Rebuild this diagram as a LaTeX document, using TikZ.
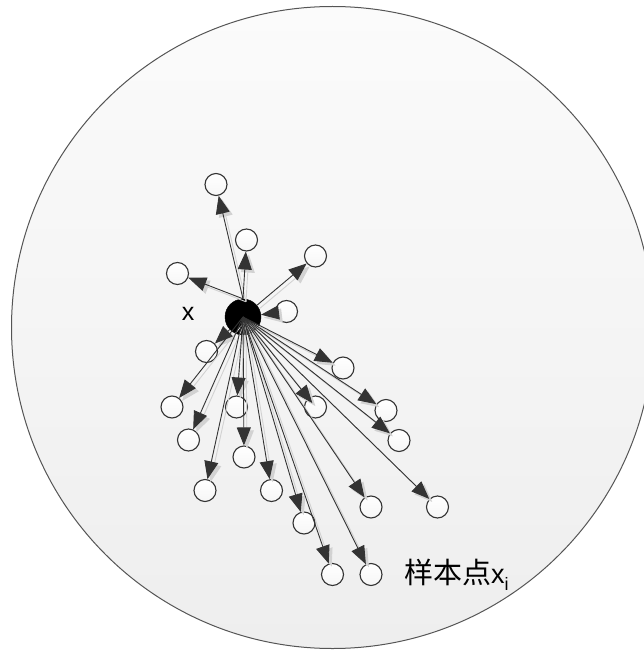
\documentclass[tikz,border=0pt]{standalone}
\usepackage{fontspec}
\setmainfont{Liberation Sans}
\newfontfamily\cjk{Noto Sans CJK SC}
\usetikzlibrary{arrows.meta}
\definecolor{linec}{HTML}{333333}
\definecolor{rim}{HTML}{555555}
\definecolor{shad}{HTML}{D2D2D2}
\definecolor{bgtop}{HTML}{FBFBFB}
\definecolor{bgbot}{HTML}{EEEEEE}
\begin{document}
\begin{tikzpicture}[x=1pt,y=-1pt,
  smpt/.style={circle,draw=linec,line width=1.1pt,minimum size=22pt,inner sep=0pt,top color=white,bottom color=gray!7},
  arr/.style={draw=linec,line width=0.9pt,-{Triangle[length=18pt,width=14pt]}},
  shd/.style={draw=shad,line width=0.9pt,-{Triangle[length=18pt,width=14pt]},transform canvas={shift={(3,3)}}}]
\useasboundingbox (0,0) rectangle (644,650);
\begin{scope}
\clip (0,0) rectangle (644,650);
\draw[rim,line width=1pt,top color=bgtop,bottom color=bgbot] (332.5,327.5) circle[radius=321];
\end{scope}
% sample points
\node[smpt] (c1) at (216,184.5) {};
\node[smpt] (c2) at (246.5,240) {};
\node[smpt] (c3) at (177.5,273.5) {};
\node[smpt] (c4) at (315.5,256) {};
\node[smpt] (c5) at (286.5,311.5) {};
\node[smpt] (c6) at (206.5,351.5) {};
\node[smpt] (c7) at (343,368) {};
\node[smpt] (c8) at (172,407) {};
\node[smpt] (c9) at (236.5,407) {};
\node[smpt] (c10) at (315.5,407) {};
\node[smpt] (c11) at (386,410.5) {};
\node[smpt] (c12) at (188.5,440) {};
\node[smpt] (c13) at (399,440.5) {};
\node[smpt] (c14) at (244,457) {};
\node[smpt] (c15) at (205,490.5) {};
\node[smpt] (c16) at (271.5,490.5) {};
\node[smpt] (c17) at (371,507) {};
\node[smpt] (c18) at (437.5,507) {};
\node[smpt] (c19) at (304,523) {};
\node[smpt] (c20) at (332.5,574.5) {};
\node[smpt] (c21) at (371,574.5) {};
% centre point
\node[circle,fill=black,draw=black,minimum size=36pt,inner sep=0pt] (b) at (243,317) {};
% shadows
\foreach \t in {c1,c2,c3}{\draw[shd] (b.north) -- (\t);}
\foreach \t in {c4,c6}{\draw[shd] (b) -- (\t);}
\draw[shd] (c5) -- (b);
\foreach \t in {c7,c8,c9,c11,c12,c13,c14,c15,c16,c17,c18,c19,c20,c21}{\draw[shd] (b.center) -- (\t);}
\draw[shd,shorten >=5pt] (b.center) -- (c10.center);
% arrows
\foreach \t in {c1,c2,c3}{\draw[arr] (b.north) -- (\t);}
\foreach \t in {c4,c6}{\draw[arr] (b) -- (\t);}
\draw[arr] (c5) -- (b);
\foreach \t in {c7,c8,c9,c11,c12,c13,c14,c15,c16,c17,c18,c19,c20,c21}{\draw[arr] (b.center) -- (\t);}
\draw[arr,shorten >=5pt] (b.center) -- (c10.center);
% labels
\node[font=\fontsize{25}{25}\selectfont,inner sep=0pt] (lx) at (188,314) {x};
\node[anchor=base west,inner sep=0pt] (lab) at (404,583) {{\cjk\fontsize{29}{29}\selectfont 样本点}{\fontsize{27}{27}\selectfont x}\raisebox{-7pt}{\fontsize{18}{18}\selectfont i}};
\end{tikzpicture}
\end{document}
